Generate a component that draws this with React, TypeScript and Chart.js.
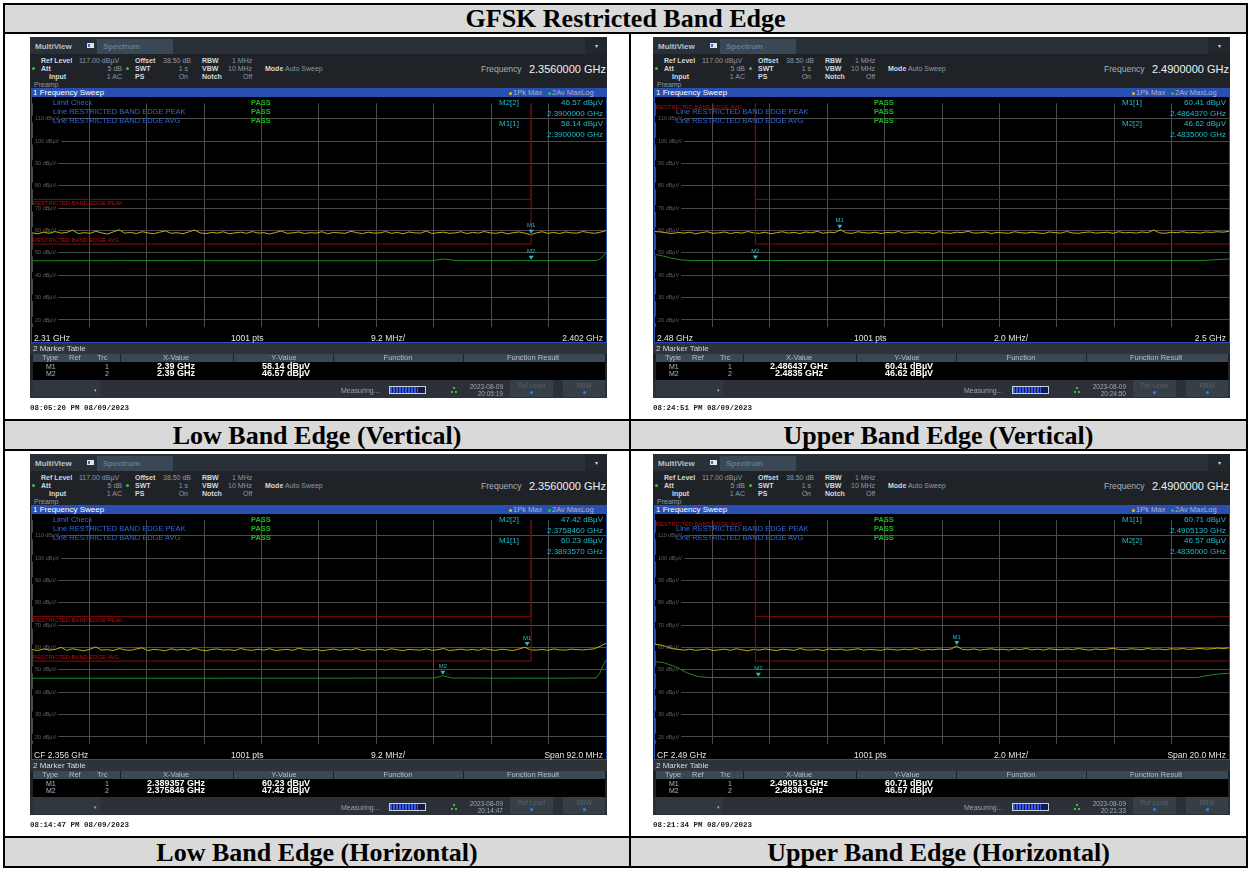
import React, { useEffect, useRef } from 'react';
import { Chart, registerables } from 'chart.js';
Chart.register(...registerables);

const SANS = '"Liberation Sans", Arial, sans-serif';
const SERIF = '"Liberation Serif", "Times New Roman", serif';
const MONO = '"Liberation Mono", "DejaVu Sans Mono", monospace';

// ---------- page text ----------
const PAGE_TITLE = 'GFSK Restricted Band Edge';
const CAPTIONS = ['Low Band Edge (Vertical)', 'Upper Band Edge (Vertical)', 'Low Band Edge (Horizontal)', 'Upper Band Edge (Horizontal)'];

// ---------- axes ----------
const Y_MIN = 17;
const Y_MAX = 117;
const Y_GRID = [20, 30, 40, 50, 60, 70, 80, 90, 100, 110];
const X_DIVISIONS = 10;

// ---------- limit lines ----------
const LOW_LIMIT_F = [2.31, 2.39, 2.39];
const LOW_LIMIT_PEAK = [74, 74, 160];
const LOW_LIMIT_AVG = [54, 54, 160];
const HIGH_LIMIT_F = [2.4835, 2.4835, 2.5];
const HIGH_LIMIT_PEAK = [160, 74, 74];
const HIGH_LIMIT_AVG = [160, 54, 54];

// ---------- panel 1: low band edge (vertical) ----------
const P1_RANGE = [2.31, 2.402];
const P1_PEAK = [
  59.0, 58.6, 59.3, 58.8, 59.6, 58.9, 59.2, 60.2, 58.7, 59.1,
  58.8, 59.7, 59.0, 58.5, 59.4, 60.4, 58.9, 59.2, 58.7, 59.5,
  59.0, 58.6, 59.3, 59.9, 58.8, 59.1, 58.6, 59.4, 60.3, 59.0,
  58.7, 59.2, 58.9, 59.5, 58.6, 59.0, 59.3, 58.8, 59.6, 58.9,
  59.1, 58.5, 59.2, 59.8, 58.8, 59.0, 59.4, 58.7, 59.1, 58.9,
  59.5, 58.6, 59.2, 59.0, 58.8, 59.7, 59.1, 58.7, 59.3, 58.9,
  59.0, 59.6, 58.8, 59.2, 58.6, 59.4, 59.0, 58.9, 59.8, 58.7,
  59.1, 59.3, 58.8, 59.0, 59.5, 58.7, 59.2, 58.9, 59.6, 59.0,
  58.8, 59.3, 58.6, 59.1, 59.4, 58.9, 58.2, 59.0, 59.5, 58.8,
  59.2, 58.7, 59.4, 59.0, 58.9, 59.6, 59.1, 58.8, 59.3, 60.0,
];
const P1_AVG_F = [2.31, 2.33, 2.35, 2.374, 2.376, 2.378, 2.39, 2.4005, 2.4012, 2.402];
const P1_AVG_L = [46.5, 46.6, 46.5, 46.5, 47.3, 46.6, 46.57, 46.6, 47.6, 50.0];
const P1_MK_F = [2.39, 2.39];
const P1_MK_L = [58.14, 46.57];
const P1_INFO = [['M2[2]', '46.57 dBµV'], ['', '2.3900000 GHz'], ['M1[1]', '58.14 dBµV'], ['', '2.3900000 GHz']];
const P1_FOOTER = ['2.31 GHz', '1001 pts', '9.2 MHz/', '2.402 GHz'];
const P1_ROWS = [['M1', '1', '2.39 GHz', '58.14 dBµV'], ['M2', '2', '2.39 GHz', '46.57 dBµV']];

// ---------- panel 2: upper band edge (vertical) ----------
const P2_RANGE = [2.48, 2.5];
const P2_PEAK = [
  59.6, 59.4, 59.0, 58.7, 59.2, 58.9, 59.3, 58.6, 59.1, 59.5,
  58.8, 59.0, 59.4, 58.7, 59.2, 58.9, 59.6, 59.0, 58.8, 59.3,
  58.6, 59.1, 59.5, 58.9, 59.2, 58.7, 59.4, 59.0, 59.7, 58.8,
  59.3, 59.1, 60.4, 59.0, 58.8, 59.5, 59.1, 58.9, 59.3, 58.7,
  59.2, 59.0, 59.6, 58.8, 59.1, 59.4, 58.9, 59.2, 58.7, 59.5,
  59.0, 58.8, 59.3, 59.1, 59.7, 58.9, 59.0, 59.4, 58.7, 59.2,
  59.0, 58.8, 59.5, 59.1, 58.9, 59.3, 59.0, 58.7, 59.4, 59.1,
  58.9, 59.6, 59.0, 58.8, 59.2, 59.4, 58.9, 59.1, 59.3, 58.8,
  59.5, 59.0, 59.2, 58.9, 59.4, 59.1, 60.3, 59.0, 58.8, 59.3,
  59.1, 59.5, 59.0, 59.2, 58.9, 59.4, 59.2, 59.5, 59.3, 59.7,
];
const P2_AVG_F = [2.48, 2.4803, 2.4806, 2.4809, 2.4812, 2.4835, 2.49, 2.4991, 2.4995, 2.5];
const P2_AVG_L = [49.3, 48.6, 47.6, 46.9, 46.6, 46.62, 46.6, 46.6, 47.0, 47.3];
const P2_MK_F = [2.486437, 2.4835];
const P2_MK_L = [60.41, 46.62];
const P2_INFO = [['M1[1]', '60.41 dBµV'], ['', '2.4864370 GHz'], ['M2[2]', '46.62 dBµV'], ['', '2.4835000 GHz']];
const P2_FOOTER = ['2.48 GHz', '1001 pts', '2.0 MHz/', '2.5 GHz'];
const P2_ROWS = [['M1', '1', '2.486437 GHz', '60.41 dBµV'], ['M2', '2', '2.4835 GHz', '46.62 dBµV']];

// ---------- panel 3: low band edge (horizontal) ----------
const P3_RANGE = [2.31, 2.402];
const P3_PEAK = [
  59.1, 58.7, 59.4, 58.9, 59.2, 60.1, 58.8, 59.5, 59.0, 58.6,
  59.3, 60.3, 58.9, 59.1, 58.7, 59.6, 59.0, 58.8, 59.4, 59.9,
  58.7, 59.2, 59.0, 58.6, 59.5, 58.9, 59.3, 58.8, 59.7, 59.0,
  58.6, 59.2, 59.4, 58.9, 59.1, 58.7, 59.6, 59.0, 58.8, 59.3,
  58.9, 59.5, 58.7, 59.0, 59.2, 58.8, 59.7, 59.1, 58.9, 59.3,
  58.6, 59.0, 59.4, 58.8, 59.2, 59.0, 59.6, 58.7, 59.1, 58.9,
  59.3, 58.8, 59.5, 59.0, 58.7, 59.2, 59.0, 58.9, 59.4, 58.8,
  59.1, 59.6, 58.7, 59.0, 59.3, 58.9, 59.2, 58.8, 59.5, 59.0,
  58.8, 59.3, 59.0, 58.7, 59.4, 60.2, 59.0, 58.9, 59.2, 58.8,
  59.4, 59.0, 58.9, 59.3, 59.1, 59.0, 59.2, 59.5, 60.6, 62.0,
];
const P3_AVG_F = [2.31, 2.34, 2.3745, 2.37585, 2.3772, 2.39, 2.4004, 2.401, 2.4015, 2.402];
const P3_AVG_L = [46.3, 46.3, 46.4, 47.42, 46.4, 46.3, 46.4, 48.5, 51.8, 54.4];
const P3_MK_F = [2.389357, 2.375846];
const P3_MK_L = [60.23, 47.42];
const P3_INFO = [['M2[2]', '47.42 dBµV'], ['', '2.3758460 GHz'], ['M1[1]', '60.23 dBµV'], ['', '2.3893570 GHz']];
const P3_FOOTER = ['CF 2.356 GHz', '1001 pts', '9.2 MHz/', 'Span 92.0 MHz'];
const P3_ROWS = [['M1', '1', '2.389357 GHz', '60.23 dBµV'], ['M2', '2', '2.375846 GHz', '47.42 dBµV']];

// ---------- panel 4: upper band edge (horizontal) ----------
const P4_RANGE = [2.48, 2.5];
const P4_PEAK = [
  61.5, 61.2, 60.4, 59.6, 59.2, 58.9, 59.3, 58.8, 59.1, 59.4,
  58.7, 59.0, 59.3, 58.8, 59.5, 59.0, 58.6, 59.2, 58.9, 59.4,
  59.0, 58.7, 59.3, 59.1, 58.8, 59.6, 59.0, 58.9, 59.2, 58.7,
  59.4, 59.0, 59.3, 58.8, 59.1, 59.5, 58.9, 59.2, 59.0, 58.8,
  59.4, 59.1, 58.9, 59.3, 59.0, 59.6, 58.8, 59.2, 59.0, 59.4,
  59.1, 59.3, 60.7, 59.2, 59.0, 59.4, 58.9, 59.2, 59.5, 59.0,
  59.3, 58.9, 59.4, 59.1, 59.6, 59.0, 59.3, 58.9, 59.5, 59.2,
  59.0, 59.4, 59.1, 59.6, 59.2, 58.9, 59.4, 59.1, 59.3, 59.7,
  59.2, 59.0, 59.5, 59.3, 59.1, 59.6, 59.2, 59.4, 59.0, 59.5,
  59.3, 59.6, 59.2, 59.4, 59.7, 59.3, 59.5, 59.8, 59.6, 59.9,
];
const P4_AVG_F = [2.48, 2.4803, 2.4807, 2.4811, 2.4815, 2.4819, 2.4836, 2.4989, 2.4993, 2.4997, 2.5];
const P4_AVG_L = [53.7, 53.3, 51.5, 48.8, 47.0, 46.6, 46.57, 46.6, 47.6, 48.3, 48.5];
const P4_MK_F = [2.490513, 2.4836];
const P4_MK_L = [60.71, 46.57];
const P4_INFO = [['M1[1]', '60.71 dBµV'], ['', '2.4905130 GHz'], ['M2[2]', '46.57 dBµV'], ['', '2.4836000 GHz']];
const P4_FOOTER = ['CF 2.49 GHz', '1001 pts', '2.0 MHz/', 'Span 20.0 MHz'];
const P4_ROWS = [['M1', '1', '2.490513 GHz', '60.71 dBµV'], ['M2', '2', '2.4836 GHz', '46.57 dBµV']];

const PANELS = [
  { left: 30, top: 37, freq: '2.3560000 GHz', range: P1_RANGE, peak: P1_PEAK, avgF: P1_AVG_F, avgL: P1_AVG_L, mkF: P1_MK_F, mkL: P1_MK_L, side: 'low', info: P1_INFO, footer: P1_FOOTER, rows: P1_ROWS, date: '2023-08-09', time: '20:05:19', stamp: '08:05:20 PM  08/09/2023' },
  { left: 653, top: 37, freq: '2.4900000 GHz', range: P2_RANGE, peak: P2_PEAK, avgF: P2_AVG_F, avgL: P2_AVG_L, mkF: P2_MK_F, mkL: P2_MK_L, side: 'high', info: P2_INFO, footer: P2_FOOTER, rows: P2_ROWS, date: '2023-08-09', time: '20:24:50', stamp: '08:24:51 PM  08/09/2023' },
  { left: 30, top: 454, freq: '2.3560000 GHz', range: P3_RANGE, peak: P3_PEAK, avgF: P3_AVG_F, avgL: P3_AVG_L, mkF: P3_MK_F, mkL: P3_MK_L, side: 'low', info: P3_INFO, footer: P3_FOOTER, rows: P3_ROWS, date: '2023-08-09', time: '20:14:47', stamp: '08:14:47 PM  08/09/2023' },
  { left: 653, top: 454, freq: '2.4900000 GHz', range: P4_RANGE, peak: P4_PEAK, avgF: P4_AVG_F, avgL: P4_AVG_L, mkF: P4_MK_F, mkL: P4_MK_L, side: 'high', info: P4_INFO, footer: P4_FOOTER, rows: P4_ROWS, date: '2023-08-09', time: '20:21:33', stamp: '08:21:34 PM  08/09/2023' },
];

const BLUE_TXT = '#3468d2';
const PASS_C = '#1fb41f';
const CYAN = '#22bcc8';

function T({ x, y, s, c, b, a, f, children }: any) {
  const tx = a === 'right' ? '-100%' : a === 'center' ? '-50%' : '0';
  return (
    <span style={{ position: 'absolute', left: x, top: y, transform: `translate(${tx},-50%)`, fontSize: s, color: c, fontWeight: b ? 'bold' : 'normal', fontFamily: f || 'inherit', whiteSpace: 'nowrap', lineHeight: 1 }}>{children}</span>
  );
}

function box(l: number, t: number, w: number, h: number, bg: string, extra: any = {}) {
  return { position: 'absolute' as const, left: l, top: t, width: w, height: h, background: bg, ...extra };
}

function Screen({ p }: { p: any }) {
  const ref = useRef<HTMLCanvasElement>(null);
  useEffect(() => {
    const canvas = ref.current;
    if (!canvas) return;
    const [r0, r1] = p.range;
    const step = (r1 - r0) / (p.peak.length - 1);
    const peakPts = p.peak.map((v: number, i: number) => ({ x: r0 + i * step, y: v }));
    const avgPts = p.avgF.map((f: number, i: number) => ({ x: f, y: p.avgL[i] }));
    const limF = p.side === 'low' ? LOW_LIMIT_F : HIGH_LIMIT_F;
    const limP = p.side === 'low' ? LOW_LIMIT_PEAK : HIGH_LIMIT_PEAK;
    const limA = p.side === 'low' ? LOW_LIMIT_AVG : HIGH_LIMIT_AVG;
    const xgrid: number[] = [];
    for (let i = 0; i <= X_DIVISIONS; i++) xgrid.push(r0 + (i * (r1 - r0)) / X_DIVISIONS);

    const overlay = {
      id: 'saOverlay',
      afterDatasetsDraw(chart: any) {
        const { ctx, chartArea, scales } = chart;
        const xs = scales.x;
        const ys = scales.y;
        ctx.save();
        ctx.font = `5.8px ${SANS}`;
        ctx.fillStyle = '#b01414';
        ctx.textBaseline = 'middle';
        ctx.textAlign = 'left';
        if (p.side === 'low') {
          ctx.fillText('RESTRICTED BAND EDGE PEAK', chartArea.left + 1, ys.getPixelForValue(LOW_LIMIT_PEAK[0]) + 4);
          ctx.fillText('RESTRICTED BAND EDGE AVG', chartArea.left + 1, ys.getPixelForValue(LOW_LIMIT_AVG[0]) - 4);
        } else {
          ctx.fillText('RESTRICTED BAND EDGE AVG', chartArea.left + 1, chartArea.top + 4);
        }
        ctx.fillStyle = CYAN;
        ctx.font = `6px ${SANS}`;
        ctx.textAlign = 'center';
        p.mkF.forEach((f: number, i: number) => {
          const px = xs.getPixelForValue(f);
          const py = ys.getPixelForValue(p.mkL[i]);
          ctx.beginPath();
          ctx.moveTo(px - 2.5, py - 5);
          ctx.lineTo(px + 2.5, py - 5);
          ctx.lineTo(px, py - 1);
          ctx.closePath();
          ctx.fill();
          ctx.fillText('M' + (i + 1), px, py - 9);
        });
        ctx.restore();
      },
    };

    const chart = new Chart(canvas, {
      type: 'line',
      data: {
        datasets: [
          { data: limF.map((f, i) => ({ x: f, y: limP[i] })), borderColor: '#7e1010', borderWidth: 1, pointRadius: 0, tension: 0 },
          { data: limF.map((f, i) => ({ x: f, y: limA[i] })), borderColor: '#7e1010', borderWidth: 1, pointRadius: 0, tension: 0 },
          { data: avgPts, borderColor: '#1d8a1d', borderWidth: 1, pointRadius: 0, tension: 0 },
          { data: peakPts, borderColor: '#c4ae14', borderWidth: 1, pointRadius: 0, tension: 0 },
        ],
      } as any,
      options: {
        animation: false,
        responsive: false,
        maintainAspectRatio: false,
        events: [],
        layout: { padding: 0 },
        plugins: { legend: { display: false }, tooltip: { enabled: false } },
        scales: {
          x: {
            type: 'linear',
            min: r0,
            max: r1,
            afterBuildTicks: (s: any) => { s.ticks = xgrid.map((v) => ({ value: v })); },
            afterFit: (s: any) => { s.height = 0; },
            ticks: { display: false },
            grid: { color: '#4a4a4a', drawTicks: false, lineWidth: 1 },
            border: { display: false },
          },
          y: {
            type: 'linear',
            min: Y_MIN,
            max: Y_MAX,
            afterBuildTicks: (s: any) => { s.ticks = Y_GRID.map((v) => ({ value: v })); },
            afterFit: (s: any) => { s.width = 0; },
            ticks: {
              mirror: true,
              padding: 3,
              color: '#5e5e5e',
              font: { size: 5.5, family: SANS },
              callback: (v: any) => `${v} dBµV`,
              showLabelBackdrop: true,
              backdropColor: '#000000',
              backdropPadding: { top: 0, bottom: 0, left: 3, right: 2 },
            },
            grid: { color: '#4a4a4a', drawTicks: false, lineWidth: 1 },
            border: { display: false },
          },
        },
      } as any,
      plugins: [overlay],
    });
    return () => chart.destroy();
  }, [p]);

  const lbl = '#d2d8de';
  const val = '#8f98a1';
  const fy = 300.5;
  return (
    <>
      <div style={{ position: 'absolute', left: p.left, top: p.top, width: 577, height: 361, background: '#1f2328', overflow: 'hidden', fontFamily: SANS }}>
        <div style={box(0, 0, 577, 17, '#2a3037')} />
        <div style={box(67, 2, 76, 15, '#3a4855')} />
        <div style={box(555, 0, 22, 17, '#22272d')} />
        <T x={5} y={9.5} s={8} c="#b8c0c8" b>MultiView</T>
        <div style={box(57, 6, 7, 5, '#dce4ec')} />
        <div style={box(58, 7, 2, 3, '#3a6fd0')} />
        <T x={73} y={9.5} s={8} c="#627b91" b>Spectrum</T>
        <T x={566} y={9} s={6} c="#d0d6dc" a="center">▾</T>
        <T x={11} y={23} s={7} c={lbl} b>Ref Level</T>
        <T x={49} y={23} s={7} c={val}>117.00 dBµV</T>
        <T x={105} y={23} s={7} c={lbl} b>Offset</T>
        <T x={133} y={23} s={7} c={val}>38.50 dB</T>
        <T x={172} y={23} s={7} c={lbl} b>RBW</T>
        <T x={202} y={23} s={7} c={val}>1 MHz</T>
        <div style={box(2, 29.5, 3, 3, '#3cbf3c', { borderRadius: 2 })} />
        <T x={11} y={31} s={7} c={lbl} b>Att</T>
        <T x={92} y={31} s={7} c={val} a="right">5 dB</T>
        <div style={box(96, 29.5, 3, 3, '#3cbf3c', { borderRadius: 2 })} />
        <T x={105} y={31} s={7} c={lbl} b>SWT</T>
        <T x={158} y={31} s={7} c={val} a="right">1 s</T>
        <T x={172} y={31} s={7} c={lbl} b>VBW</T>
        <T x={198} y={31} s={7} c={val}>10 MHz</T>
        <T x={235} y={31} s={7} c={lbl} b>Mode</T>
        <T x={255} y={31} s={7} c={val}>Auto Sweep</T>
        <T x={19} y={39} s={7} c={lbl} b>Input</T>
        <T x={92} y={39} s={7} c={val} a="right">1 AC</T>
        <T x={105} y={39} s={7} c={lbl} b>PS</T>
        <T x={158} y={39} s={7} c={val} a="right">On</T>
        <T x={172} y={39} s={7} c={lbl} b>Notch</T>
        <T x={213} y={39} s={7} c={val}>Off</T>
        <T x={4} y={47} s={7} c={val}>Preamp</T>
        <T x={451} y={32} s={8.6} c="#a8b0b8">Frequency</T>
        <T x={576} y={32} s={11} c="#eef1f4" a="right">{p.freq}</T>
        <div style={box(1, 51, 576, 255, '#2a4fb3')} />
        <T x={3} y={55.5} s={8} c="#ffffff">1 Frequency Sweep</T>
        <div style={box(479, 54.5, 3, 3, '#e0c020', { borderRadius: 2 })} />
        <T x={483} y={55.5} s={7.5} c="#aab4c8">1Pk Max</T>
        <div style={box(518, 54.5, 3, 3, '#30c030', { borderRadius: 2 })} />
        <T x={522} y={55.5} s={7.5} c="#aab4c8">2Av MaxLog</T>
        <div style={box(2, 60, 574, 236, '#000000')} />
        <canvas ref={ref} width={574} height={236} style={{ position: 'absolute', left: 2, top: 60, width: 574, height: 236 }} />
        {p.side === 'low' && <T x={23} y={65.7} s={7.5} c={BLUE_TXT}>Limit Check</T>}
        <T x={23} y={74.7} s={7.5} c={BLUE_TXT}>Line RESTRICTED BAND EDGE PEAK</T>
        <T x={23} y={83.6} s={7.5} c={BLUE_TXT}>Line RESTRICTED BAND EDGE AVG</T>
        <T x={221} y={65.7} s={7.5} c={PASS_C} b>PASS</T>
        <T x={221} y={74.7} s={7.5} c={PASS_C} b>PASS</T>
        <T x={221} y={83.6} s={7.5} c={PASS_C} b>PASS</T>
        {p.info.map((ln: string[], i: number) => (
          <React.Fragment key={i}>
            {ln[0] && <T x={469} y={66 + i * 10.7} s={8} c={CYAN}>{ln[0]}</T>}
            <T x={573} y={66 + i * 10.7} s={8} c={CYAN} a="right">{ln[1]}</T>
          </React.Fragment>
        ))}
        <div style={box(2, 296, 574, 9, '#000000')} />
        <T x={4} y={fy} s={8.5} c="#e4e4e4">{p.footer[0]}</T>
        <T x={201} y={fy} s={8.5} c="#e4e4e4">{p.footer[1]}</T>
        <T x={341} y={fy} s={8.5} c="#e4e4e4">{p.footer[2]}</T>
        <T x={573} y={fy} s={8.5} c="#e4e4e4" a="right">{p.footer[3]}</T>
        <div style={box(0, 306, 577, 11, '#2d3338')} />
        <T x={3} y={311.5} s={8} c="#d6dbe0">2 Marker Table</T>
        <div style={box(3, 317, 87, 8, '#3b4853')} />
        <div style={box(91, 317, 112, 8, '#3b4853')} />
        <div style={box(204, 317, 99, 8, '#3b4853')} />
        <div style={box(304, 317, 129, 8, '#3b4853')} />
        <div style={box(434, 317, 141, 8, '#3b4853')} />
        <T x={12} y={321.3} s={7.5} c="#b6bec6">Type</T>
        <T x={39} y={321.3} s={7.5} c="#b6bec6">Ref</T>
        <T x={67} y={321.3} s={7.5} c="#b6bec6">Trc</T>
        <T x={146} y={321.3} s={7.5} c="#b6bec6" a="center">X-Value</T>
        <T x={254} y={321.3} s={7.5} c="#b6bec6" a="center">Y-Value</T>
        <T x={368} y={321.3} s={7.5} c="#b6bec6" a="center">Function</T>
        <T x={503} y={321.3} s={7.5} c="#b6bec6" a="center">Function Result</T>
        <div style={box(3, 325, 572, 18, '#000000')} />
        {p.rows.map((r: string[], i: number) => (
          <React.Fragment key={i}>
            <T x={16} y={329.3 + i * 6.5} s={7} c="#b0b8c0">{r[0]}</T>
            <T x={77} y={329.3 + i * 6.5} s={7} c="#b0b8c0" a="center">{r[1]}</T>
            <T x={146} y={329.3 + i * 6.5} s={9} c="#ffffff" b a="center">{r[2]}</T>
            <T x={256} y={329.3 + i * 6.5} s={9} c="#ffffff" b a="center">{r[3]}</T>
          </React.Fragment>
        ))}
        <div style={box(0, 343, 577, 18, '#2b3137')} />
        <div style={box(3, 343, 67, 17, '#30373e')} />
        <T x={65} y={353} s={5} c="#aab2ba" a="center">▾</T>
        <T x={311} y={353} s={7} c="#9aa3ac">Measuring...</T>
        <div style={box(359, 349, 37, 8, '#141a50', { boxSizing: 'border-box', border: '1px solid #c8d0d8', backgroundImage: 'repeating-linear-gradient(90deg, #3557e6 0px, #3557e6 2px, #141a50 2px, #141a50 3px)', backgroundSize: '28px 6px', backgroundRepeat: 'no-repeat' })} />
        <div style={box(423, 350, 2, 2, '#3cbf3c')} />
        <div style={box(421, 354, 2, 2, '#3cbf3c')} />
        <div style={box(425, 354, 2, 2, '#3cbf3c')} />
        <T x={473} y={350} s={6.5} c="#a0a8b0" a="right">{p.date}</T>
        <T x={473} y={356.5} s={6.5} c="#a0a8b0" a="right">{p.time}</T>
        <div style={box(480, 343, 43, 17, '#363e46')} />
        <T x={501.5} y={349} s={6.5} c="#56626e" a="center">Ref Level</T>
        <div style={box(500, 354, 3, 3, '#2a7fff', { borderRadius: 2 })} />
        <div style={box(533, 343, 42, 17, '#363e46')} />
        <T x={554} y={349} s={6.5} c="#56626e" a="center">RBW</T>
        <div style={box(553, 354, 3, 3, '#2a7fff', { borderRadius: 2 })} />
      </div>
      <T x={p.left} y={p.top + 372} s={7.5} c="#222222" b f={MONO}>{p.stamp}</T>
    </>
  );
}

export default function App() {
  const line = '#000000';
  const gray = '#d9d9d9';
  return (
    <div style={{ position: 'absolute', left: 0, top: 0, width: 1251, height: 869, background: '#ffffff', overflow: 'hidden' }}>
      <div style={box(5, 5, 1241, 27, gray)} />
      <div style={box(5, 421, 624, 28, gray)} />
      <div style={box(631, 421, 615, 28, gray)} />
      <div style={box(5, 838, 624, 28, gray)} />
      <div style={box(631, 838, 615, 28, gray)} />
      <div style={box(3, 3, 1245, 2, line)} />
      <div style={box(3, 32, 1245, 2, line)} />
      <div style={box(3, 419, 1245, 2, line)} />
      <div style={box(3, 449, 1245, 2, line)} />
      <div style={box(3, 836, 1245, 2, line)} />
      <div style={box(3, 866, 1245, 2, line)} />
      <div style={box(3, 3, 2, 865, line)} />
      <div style={box(629, 32, 2, 836, line)} />
      <div style={box(1246, 3, 2, 865, line)} />
      <div style={{ fontFamily: SERIF, fontWeight: 'bold', color: '#000' }}>
        <T x={625.5} y={18.5} s={26} c="#000" b a="center">{PAGE_TITLE}</T>
        <T x={317} y={435.5} s={26} c="#000" b a="center">{CAPTIONS[0]}</T>
        <T x={938.5} y={435.5} s={26} c="#000" b a="center">{CAPTIONS[1]}</T>
        <T x={317} y={852.5} s={26} c="#000" b a="center">{CAPTIONS[2]}</T>
        <T x={938.5} y={852.5} s={26} c="#000" b a="center">{CAPTIONS[3]}</T>
      </div>
      {PANELS.map((p, i) => <Screen key={i} p={p} />)}
    </div>
  );
}
